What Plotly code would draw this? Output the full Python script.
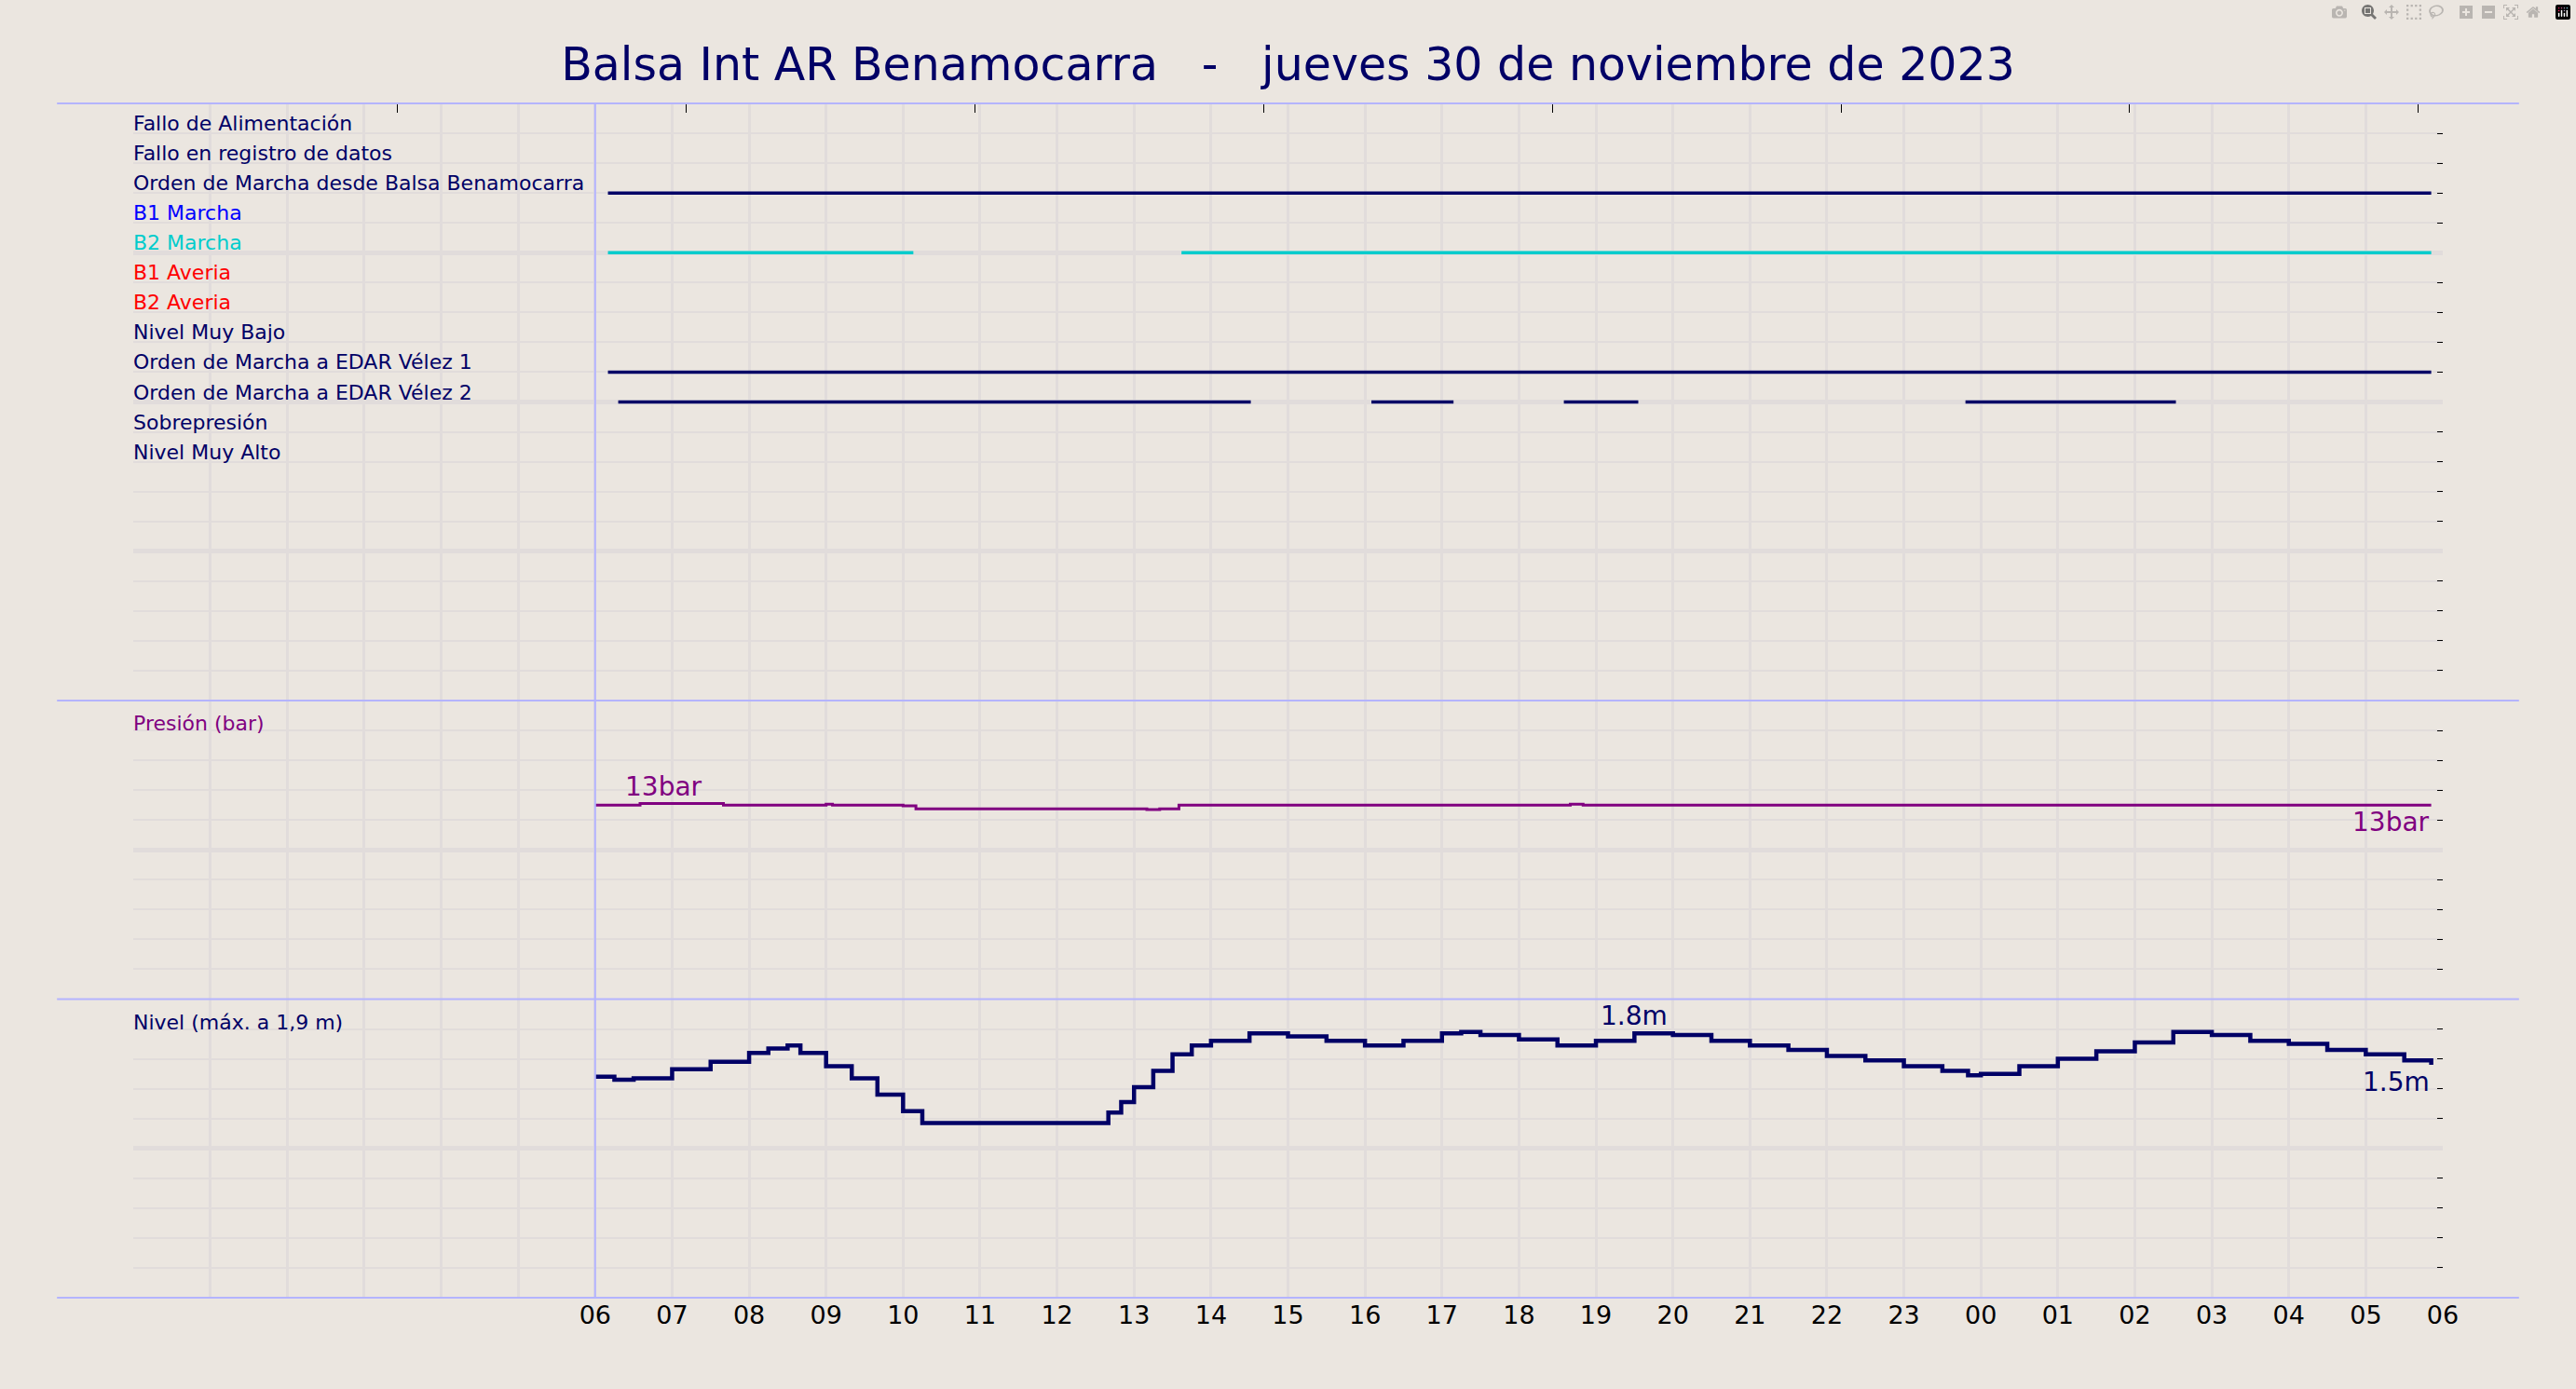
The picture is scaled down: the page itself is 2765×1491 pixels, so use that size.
import plotly.graph_objects as go
import pandas as pd

NAVY = "#000066"
signal_names = ["Fallo de Alimentación", "Fallo en registro de datos",
                "Orden de Marcha desde Balsa Benamocarra", "B1 Marcha", "B2 Marcha",
                "B1 Averia", "B2 Averia", "Nivel Muy Bajo", "Orden de Marcha a EDAR Vélez 1",
                "Orden de Marcha a EDAR Vélez 2", "Sobrepresión", "Nivel Muy Alto"]
signal_colors = [NAVY, NAVY, NAVY, "#0000ff", "#00cccc", "#ff0000", "#ff0000",
                 NAVY, NAVY, NAVY, NAVY, NAVY]
# on-intervals per signal index
signal_on = {
    2: [("2023-11-30 06:10", "2023-12-01 05:51")],
    4: [("2023-11-30 06:10", "2023-11-30 10:08"), ("2023-11-30 13:37", "2023-12-01 05:51")],
    8: [("2023-11-30 06:10", "2023-12-01 05:51")],
    9: [("2023-11-30 06:18", "2023-11-30 14:31"), ("2023-11-30 16:05", "2023-11-30 17:09"),
        ("2023-11-30 18:35", "2023-11-30 19:33"), ("2023-11-30 23:48", "2023-12-01 02:32")],
}

pres_t = ["06:00", "06:20", "06:35", "07:40", "09:00", "09:05", "10:00", "10:10", "13:10", "13:20", "13:35",
          "18:40", "18:50", "19:30", "02:30", "05:51"]
pres_v = [13.0, 13.0, 13.1, 13.0, 13.05, 13.0, 12.95, 12.75, 12.7, 12.75, 13.0, 13.05, 13.0, 13.0, 13.0, 13.0]

lvl_t = ["06:00", "06:15", "06:30", "07:00", "07:30", "08:00", "08:15", "08:30", "08:40", "09:00", "09:20",
         "09:40", "10:00", "10:15", "11:00", "12:00", "12:30", "12:40", "12:50", "13:00", "13:15", "13:30",
         "13:45", "14:00", "14:30", "15:00", "15:30", "16:00", "16:30", "17:00", "17:15", "17:30", "18:00",
         "18:30", "19:00", "19:30", "20:00", "20:30", "21:00", "21:30", "22:00", "22:30", "23:00", "23:30",
         "23:50", "00:00", "00:30", "01:00", "01:30", "02:00", "02:30", "03:00", "03:30", "04:00", "04:30",
         "05:00", "05:30", "05:51"]
lvl_v = [1.48, 1.46, 1.47, 1.53, 1.58, 1.64, 1.67, 1.69, 1.64, 1.55, 1.47, 1.36, 1.25, 1.17, 1.17, 1.17,
         1.17, 1.24, 1.31, 1.41, 1.52, 1.63, 1.69, 1.72, 1.77, 1.75, 1.72, 1.69, 1.72, 1.77, 1.78, 1.76,
         1.73, 1.69, 1.72, 1.77, 1.76, 1.72, 1.69, 1.66, 1.62, 1.59, 1.55, 1.52, 1.49, 1.50, 1.55, 1.60,
         1.65, 1.71, 1.78, 1.76, 1.72, 1.70, 1.66, 1.63, 1.59, 1.56]

def to_dt(ts):
    out = []
    for t in ts:
        d = "2023-12-01 " if int(t[:2]) < 6 else "2023-11-30 "
        out.append(pd.Timestamp(d + t))
    return out

pt, lt = to_dt(pres_t), to_dt(lvl_t)
x0, x1 = pd.Timestamp("2023-11-30 00:00"), pd.Timestamp("2023-12-01 06:00")
tickvals = list(pd.date_range("2023-11-30 06:00", "2023-12-01 06:00", freq="h"))

fig = go.Figure()
for i, segs in signal_on.items():
    for a, b in segs:
        fig.add_trace(go.Scatter(x=[pd.Timestamp(a), pd.Timestamp(b)], y=[19 - i, 19 - i], mode="lines",
                                 line=dict(color=signal_colors[i], width=3.5), yaxis="y", showlegend=False,
                                 hoverinfo="skip"))
fig.add_trace(go.Scatter(x=pt, y=pres_v, mode="lines", line=dict(color="#800080", width=3, shape="hv"),
                         yaxis="y2", showlegend=False))
fig.add_trace(go.Scatter(x=lt, y=lvl_v, mode="lines", line=dict(color=NAVY, width=4.5, shape="hv"),
                         yaxis="y3", showlegend=False))

for i, n in enumerate(signal_names):
    fig.add_annotation(x=x0, y=19 - i, xref="x", yref="y", text=n, showarrow=False, xanchor="left",
                       yanchor="bottom", xshift=-2, yshift=-4, font=dict(size=22, color=signal_colors[i]))
fig.add_annotation(x=x0, y=20, xref="x", yref="y2", text="Presión (bar)", showarrow=False, xanchor="left",
                   yanchor="top", yshift=-10, xshift=-2, font=dict(size=22, color="#800080"))
fig.add_annotation(x=x0, y=2, xref="x", yref="y3", text="Nivel (máx. a 1,9 m)", showarrow=False,
                   xanchor="left", yanchor="top", yshift=-10, xshift=-2, font=dict(size=22, color=NAVY))
fig.add_annotation(x=pt[2], y=pres_v[2], xref="x", yref="y2", text="13bar", showarrow=False,
                   xanchor="center", yanchor="bottom", xshift=25, font=dict(size=28, color="#800080"))
fig.add_annotation(x=pt[-1], y=pres_v[-1], xref="x", yref="y2", text="13bar", showarrow=False,
                   xanchor="right", yanchor="top", font=dict(size=28, color="#800080"))
fig.add_annotation(x=lt[35], y=lvl_v[35], xref="x", yref="y3", text="1.8m", showarrow=False,
                   xanchor="center", yanchor="bottom", font=dict(size=28, color=NAVY))
fig.add_annotation(x=lt[-1], y=lvl_v[-1], xref="x", yref="y3", text="1.5m", showarrow=False,
                   xanchor="right", yanchor="top", font=dict(size=28, color=NAVY))

GRID = "#e1dcdb"
def yax(domain, rng, minor_dt, major_dt):
    return dict(domain=domain, range=rng, showticklabels=False, showgrid=True, gridcolor=GRID, gridwidth=5,
                dtick=major_dt, tick0=0, ticks="", zeroline=False, anchor="x", side="right",
                minor=dict(dtick=minor_dt, tick0=0, showgrid=True, gridcolor=GRID, gridwidth=2,
                           ticks="inside", ticklen=6, tickcolor="black"),
                fixedrange=True)

fig.update_layout(
    width=2765, height=1491, paper_bgcolor="#ebe6e0", plot_bgcolor="#ebe6e0",
    margin=dict(l=143, r=143, t=111, b=98),
    title=dict(text="Balsa Int AR Benamocarra&nbsp;&nbsp;&nbsp;-&nbsp;&nbsp;&nbsp;jueves 30 de noviembre de 2023",
               x=0.5, y=0.965, yanchor="top", font=dict(size=49, color=NAVY, family="DejaVu Sans")),
    font=dict(family="DejaVu Sans", color="black"),
    xaxis=dict(range=[x0, x1], type="date", tickvals=tickvals, tickformat="%H", showgrid=False,
               minor=dict(dtick=3600000, tick0=x0, showgrid=True, gridcolor=GRID, gridwidth=3),
               tickfont=dict(size=27), ticks="", zeroline=False, showline=False, anchor="y3"),
    xaxis2=dict(range=[x0, x1], type="date", overlaying="x", side="top", showticklabels=False, showgrid=False,
                ticks="inside", ticklen=10, tickcolor="black", dtick=13500000,
                tick0=pd.Timestamp("2023-11-30 03:26"), anchor="y"),
    yaxis=yax([0.5, 1.0], [0, 20], 1, 5),
    yaxis2=yax([0.25, 0.5], [0, 20], 2, 10),
    yaxis3=yax([0.0, 0.25], [0, 2], 0.2, 1),
)
fig.add_trace(go.Scatter(x=[x0], y=[0], xaxis="x2", yaxis="y", mode="markers", opacity=0,
                         showlegend=False, hoverinfo="skip"))
for yv in [0, 0.25, 0.5, 1.0]:
    fig.add_shape(type="line", xref="paper", yref="paper", x0=-0.033, x1=1.033, y0=yv, y1=yv,
                  line=dict(color="#b4b4ff", width=2))
fig.add_shape(type="line", xref="x", yref="paper", x0=tickvals[0], x1=tickvals[0], y0=0, y1=1,
              line=dict(color="#b4b4ff", width=2))
fig.write_html("out.html")

with open("out.html", encoding="utf-8") as f:
    html = f.read()
html = html.replace("<head>", "<head><style>html,body{margin:0;padding:0;background:#ebe6e0;overflow:hidden}</style>", 1)
with open("out.html", "w", encoding="utf-8") as f:
    f.write(html)
